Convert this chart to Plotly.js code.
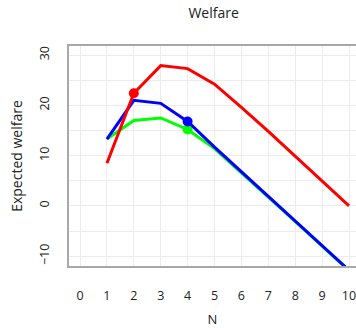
<!DOCTYPE html>
<html><head><meta charset="utf-8">
<script src="https://cdn.plot.ly/plotly-3.0.1.min.js"></script>
<style>html,body{margin:0;padding:0;background:#fff}</style>
</head><body>
<div id="chart" style="width:356px;height:328px"></div>
<script>
const N = [1, 2, 3, 4, 5, 6, 7, 8, 9, 10];
const redWelfare = [8.5, 22.4, 27.9, 27.3, 24.2, 19.6, 14.8, 9.9, 5.0, 0.0];
const blueWelfare = [13.3, 21.0, 20.4, 16.8, 11.7, 6.8, 1.9, -3.0, -7.9, -12.8];
const greenWelfare = [13.3, 17.0, 17.5, 15.2, 11.4, 6.6, 1.8, -3.1, -8.0, -12.9];
const redPoint = {x: [2], y: [22.4]};
const bluePoint = {x: [4], y: [16.8]};
const greenPoint = {x: [4], y: [15.2]};
const xTicks = [0, 1, 2, 3, 4, 5, 6, 7, 8, 9, 10];

const traces = [
  {x: N, y: greenWelfare, mode: 'lines', line: {color: '#00ff00', width: 3}},
  {x: greenPoint.x, y: greenPoint.y, mode: 'markers', marker: {color: '#00ff00', size: 10}},
  {x: N, y: blueWelfare, mode: 'lines', line: {color: '#0000ff', width: 3}},
  {x: bluePoint.x, y: bluePoint.y, mode: 'markers', marker: {color: '#0000ff', size: 10}},
  {x: N, y: redWelfare, mode: 'lines', line: {color: '#ff0000', width: 3}},
  {x: redPoint.x, y: redPoint.y, mode: 'markers', marker: {color: '#ff0000', size: 10}}
];

const layout = {
  width: 356, height: 328,
  margin: {l: 69, r: 0, t: 46, b: 62},
  showlegend: false,
  paper_bgcolor: '#fff', plot_bgcolor: '#fff',
  font: {family: 'Open Sans', size: 12.5, color: '#222'},
  title: {text: 'Welfare', x: 0.6, xanchor: 'center', y: 0.96, yanchor: 'middle', font: {size: 14, color: '#222'}},
  xaxis: {
    range: [-0.41, 10.26], tickvals: xTicks, ticktext: xTicks.map(String),
    showgrid: true, gridcolor: '#ececec', gridwidth: 1, zeroline: false,
    showline: true, linecolor: '#a8a8a8', linewidth: 2, mirror: true,
    ticks: '', ticklabelstandoff: 17, ticklabeloverflow: 'allow',
    title: {text: 'N', standoff: 18, font: {size: 13}}
  },
  yaxis: {
    range: [-11.95, 31.8], tickvals: [-10, 0, 10, 20, 30], tickangle: -90,
    showgrid: true, gridcolor: '#ececec', gridwidth: 1, zeroline: false,
    minor: {dtick: 5, tick0: 0, showgrid: true, gridcolor: '#ececec', gridwidth: 1},
    showline: true, linecolor: '#a8a8a8', linewidth: 2,
    ticks: '', ticklabelstandoff: 13,
    title: {text: 'Expected welfare', standoff: 10, font: {size: 14}}
  }
};
Plotly.newPlot('chart', traces, layout, {displayModeBar: false, staticPlot: true});
</script>
</body></html>
